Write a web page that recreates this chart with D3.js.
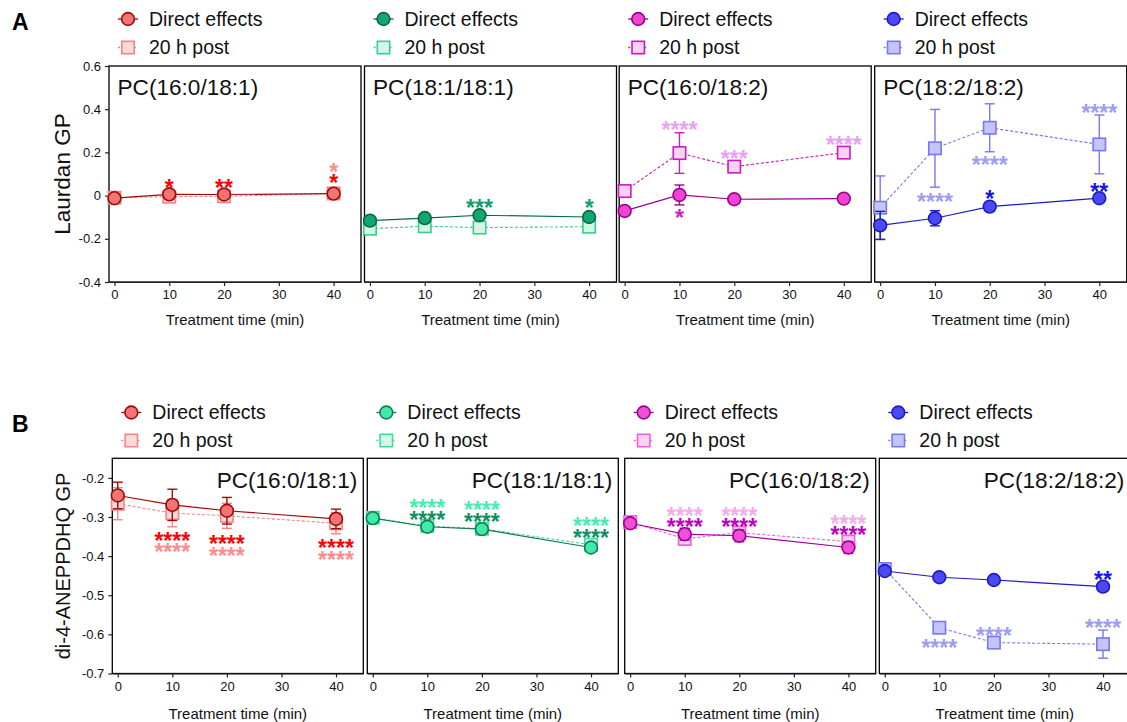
<!DOCTYPE html>
<html lang="en">
<head>
<meta charset="utf-8">
<title>Laurdan and di-4-ANEPPDHQ GP</title>
<script src="https://d3js.org/d3.v7.min.js"></script>
<style>
body{margin:0;background:#fff;}
text{font-family:Arial,"Liberation Sans",sans-serif;}
</style>
</head>
<body>
<div id="container"></div>
<script>
// ---- data ----
var times = [0, 10, 20, 40];
var xTicks = [0, 10, 20, 30, 40];
var lipids = ["PC(16:0/18:1)", "PC(18:1/18:1)", "PC(16:0/18:2)", "PC(18:2/18:2)"];
var seriesNames = ["Direct effects", "20 h post"];

// A: Laurdan GP
var laurdanTicks = [0.6, 0.4, 0.2, 0, -0.2, -0.4];
var laurdanDirect = [[-0.012, 0.006, 0.005, 0.009], [-0.116, -0.104, -0.091, -0.099], [-0.071, 0.003, -0.017, -0.014], [-0.138, -0.105, -0.051, -0.012]];
var laurdanDirectErr = [[0.01, 0.01, 0.01, 0.01], [0.01, 0.01, 0.01, 0.01], [0.01, 0.046, 0.02, 0.01], [0.065, 0.035, 0.01, 0.01]];
var laurdanPost = [[-0.01, -0.005, -0.003, 0.01], [-0.153, -0.142, -0.148, -0.144], [0.021, 0.197, 0.134, 0.199], [-0.056, 0.219, 0.314, 0.237]];
var laurdanPostErr = [[0.01, 0.01, 0.01, 0.01], [0.01, 0.01, 0.01, 0.01], [0.01, 0.094, 0.015, 0.01], [0.147, 0.18, 0.111, 0.136]];
// significance marks: [time, series (0 direct, 1 post), label, GP level]
var laurdanStars = [
  [[10, 0, "*", 0.06], [20, 0, "**", 0.06], [40, 1, "*", 0.134], [40, 0, "*", 0.083]],
  [[20, 0, "***", -0.036], [40, 0, "*", -0.036]],
  [[10, 1, "****", 0.327], [10, 0, "*", -0.079], [20, 1, "***", 0.193], [40, 1, "****", 0.257]],
  [[10, 1, "****", -0.005], [20, 0, "*", 0.006], [20, 1, "****", 0.165], [40, 0, "**", 0.04], [40, 1, "****", 0.407]]
];

// B: di-4-ANEPPDHQ GP
var anepTicks = [-0.2, -0.3, -0.4, -0.5, -0.6, -0.7];
var anepDirect = [[-0.245, -0.269, -0.284, -0.305], [-0.303, -0.325, -0.331, -0.378], [-0.316, -0.344, -0.348, -0.378], [-0.438, -0.454, -0.461, -0.478]];
var anepDirectErr = [[0.034, 0.04, 0.034, 0.025], [0.008, 0.008, 0.008, 0.008], [0.008, 0.015, 0.015, 0.015], [0.008, 0.008, 0.008, 0.008]];
var anepPost = [[-0.266, -0.29, -0.297, -0.316], [-0.302, -0.323, -0.33, -0.371], [-0.313, -0.356, -0.34, -0.363], [-0.433, -0.583, -0.621, -0.625]];
var anepPostErr = [[0.041, 0.035, 0.032, 0.027], [0.008, 0.008, 0.008, 0.008], [0.008, 0.015, 0.01, 0.01], [0.01, 0.01, 0.01, 0.036]];
var anepStars = [
  [[10, 0, "****", -0.348], [10, 1, "****", -0.377], [20, 0, "****", -0.357], [20, 1, "****", -0.387], [40, 0, "****", -0.367], [40, 1, "****", -0.396]],
  [[10, 1, "****", -0.265], [10, 0, "****", -0.295], [20, 1, "****", -0.269], [20, 0, "****", -0.3], [40, 1, "****", -0.31], [40, 0, "****", -0.34]],
  [[10, 1, "****", -0.284], [10, 0, "****", -0.312], [20, 1, "****", -0.284], [20, 0, "****", -0.312], [40, 1, "****", -0.305], [40, 0, "****", -0.333]],
  [[40, 0, "**", -0.448], [40, 1, "****", -0.572], [20, 1, "****", -0.591], [10, 1, "****", -0.621]]
];

// ---- colours per panel: direct fill/stroke/star, post fill/stroke/star ----
var redPal = {df: "#f27575", ds: "#a00a0a", dt: "#ff0000", pf: "#fddada", ps: "#f58585", pt: "#ff8c8c"};
var bluePal = {df: "#4a4af0", ds: "#1a1ac8", dt: "#1414e6", pf: "#c4c4fa", ps: "#7878ee", pt: "#9c9cf2"};
var laurdanColors = [
  redPal,
  {df: "#10a870", ds: "#0a6844", dt: "#10a070", pf: "#d4f7e6", ps: "#34d08f", pt: "#40d89a"},
  {df: "#f044d2", ds: "#980094", dt: "#cc22c4", pf: "#fcd2f4", ps: "#c81cbc", pt: "#e6a2f2"},
  bluePal
];
var anepColors = [
  redPal,
  {df: "#40eaa8", ds: "#147a50", dt: "#109062", pf: "#d6f8ea", ps: "#3edc9c", pt: "#44eeb0"},
  {df: "#f050d8", ds: "#9c009c", dt: "#c000c0", pf: "#fcd2f2", ps: "#f060d6", pt: "#f4aaec"},
  bluePal
];

var w = 1127, h = 722;
var svg = d3.select("div#container").append("svg")
  .attr("width", w).attr("height", h)
  .attr("viewBox", "0 0 " + w + " " + h)
  .style("background-color", "#fff");

var rows = [
  {label: "A", labelY: 30, top: 66, bottom: 282, width: 252, lefts: [109, 364.5, 619.2, 874.7],
   yDomain: [-0.4, 0.6], yTicks: laurdanTicks, direct: laurdanDirect, directErr: laurdanDirectErr,
   post: laurdanPost, postErr: laurdanPostErr, stars: laurdanStars, colors: laurdanColors,
   yTitle: "Laurdan GP", yTitleSize: 22.5, legendY: [25.5, 54], titleLeft: true, titleY: 95,
   xTitleY: 324.5},
  {label: "B", labelY: 431.5, top: 458.3, bottom: 673.5, width: 251, lefts: [112.3, 367.3, 624.7, 879.3],
   yDomain: [-0.7, -0.15], yTicks: anepTicks, direct: anepDirect, directErr: anepDirectErr,
   post: anepPost, postErr: anepPostErr, stars: anepStars, colors: anepColors,
   yTitle: "di-4-ANEPPDHQ GP", yTitleSize: 20, legendY: [419, 447], titleLeft: false, titleY: 488,
   xTitleY: 718.5}
];

function drawMarker(sel, kind, cx, cy, fill, stroke) {
  if (kind === 0) {
    sel.append("circle").attr("cx", cx).attr("cy", cy).attr("r", 6.4)
      .attr("fill", fill).attr("stroke", stroke).attr("stroke-width", 1.6);
  } else {
    sel.append("rect").attr("x", cx - 6.2).attr("y", cy - 6.2).attr("width", 12.4).attr("height", 12.4)
      .attr("fill", fill).attr("stroke", stroke).attr("stroke-width", 1.6);
  }
}

function styleAxis(a) {
  a.attr("font-family", "Arial, 'Liberation Sans', sans-serif").attr("font-size", 13);
  a.selectAll("path.domain").attr("stroke", "#222").attr("stroke-width", 1.2);
  a.selectAll(".tick line").attr("stroke", "#222").attr("stroke-width", 1.2);
  a.selectAll(".tick text").attr("fill", "#111");
}

rows.forEach(function(row) {
  svg.append("text").attr("x", 12).attr("y", row.labelY).attr("font-size", 23)
    .attr("font-weight", "bold").text(row.label);

  var midY = (row.top + row.bottom) / 2;
  svg.append("text").attr("transform", "translate(70," + midY + ") rotate(-90)")
    .attr("text-anchor", "middle").attr("font-size", row.yTitleSize).attr("fill", "#111").text(row.yTitle);

  row.lefts.forEach(function(left, i) {
    var x = d3.scaleLinear().domain([-1, 45]).range([left, left + row.width]);
    var y = d3.scaleLinear().domain(row.yDomain).range([row.bottom, row.top]);
    var pal = row.colors[i];
    var g = svg.append("g");

    g.append("rect").attr("x", left).attr("y", row.top)
      .attr("width", row.width).attr("height", row.bottom - row.top)
      .attr("fill", "none").attr("stroke", "#000").attr("stroke-width", 1.3);

    var xa = g.append("g").attr("transform", "translate(0," + row.bottom + ")")
      .call(d3.axisBottom(x).tickValues(xTicks).tickSize(4).tickSizeOuter(0).tickPadding(4));
    styleAxis(xa);

    if (i === 0) {
      var ya = g.append("g").attr("transform", "translate(" + left + ",0)")
        .call(d3.axisLeft(y).tickValues(row.yTicks).tickSize(4).tickSizeOuter(0).tickPadding(4)
          .tickFormat(function(d) { return d === 0 ? "0" : String(d); }));
      styleAxis(ya);
      ya.select("path.domain").remove();
    }

    g.append("text").attr("x", left + row.width / 2).attr("y", row.xTitleY)
      .attr("text-anchor", "middle").attr("font-size", 15).attr("fill", "#111").text("Treatment time (min)");

    // panel title
    g.append("text")
      .attr("x", row.titleLeft ? left + 8.5 : left + row.width - 6)
      .attr("y", row.titleY)
      .attr("text-anchor", row.titleLeft ? "start" : "end")
      .attr("font-size", 22.6).attr("fill", "#111").text(lipids[i]);

    // series: post first so direct sits on top
    var sets = [
      {kind: 1, vals: row.post[i], errs: row.postErr[i], fill: pal.pf, stroke: pal.ps, dash: "3,2", lw: 1.1},
      {kind: 0, vals: row.direct[i], errs: row.directErr[i], fill: pal.df, stroke: pal.ds, dash: null, lw: 1.2}
    ];
    var line = d3.line().x(function(d, k) { return x(times[k]); }).y(function(d) { return y(d); });

    sets.forEach(function(s) {
      g.append("path").datum(s.vals).attr("d", line).attr("fill", "none")
        .attr("stroke", s.stroke).attr("stroke-width", s.lw).attr("stroke-dasharray", s.dash);
      var eb = g.append("g").attr("stroke", s.stroke).attr("stroke-width", 1.4);
      s.vals.forEach(function(v, k) {
        var cx = x(times[k]), y0 = y(v - s.errs[k]), y1 = y(v + s.errs[k]);
        eb.append("line").attr("x1", cx).attr("x2", cx).attr("y1", y0).attr("y2", y1);
        eb.append("line").attr("x1", cx - 5).attr("x2", cx + 5).attr("y1", y0).attr("y2", y0);
        eb.append("line").attr("x1", cx - 5).attr("x2", cx + 5).attr("y1", y1).attr("y2", y1);
      });
      s.vals.forEach(function(v, k) {
        drawMarker(g, s.kind, x(times[k]), y(v), s.fill, s.stroke);
      });
    });

    // significance asterisks
    row.stars[i].forEach(function(st) {
      g.append("text").attr("x", x(st[0])).attr("y", y(st[3]) + 13)
        .attr("text-anchor", "middle").attr("font-size", 23).attr("font-weight", "bold")
        .attr("fill", st[1] === 0 ? pal.dt : pal.pt).text(st[2]);
    });

    // legend
    var lg = g.append("g");
    [0, 1].forEach(function(k) {
      var by = row.legendY[k], my = by - 6.5, mx = left + 19;
      lg.append("line").attr("x1", mx - 10).attr("x2", mx + 10).attr("y1", my).attr("y2", my)
        .attr("stroke", k === 0 ? pal.ds : pal.ps).attr("stroke-width", 1.3)
        .attr("stroke-dasharray", k === 0 ? null : "2,2");
      drawMarker(lg, k, mx, my, k === 0 ? pal.df : pal.pf, k === 0 ? pal.ds : pal.ps);
      lg.append("text").attr("x", left + 40).attr("y", by).attr("font-size", 19.5)
        .attr("fill", "#111").text(seriesNames[k]);
    });
  });
});
</script>
</body>
</html>
